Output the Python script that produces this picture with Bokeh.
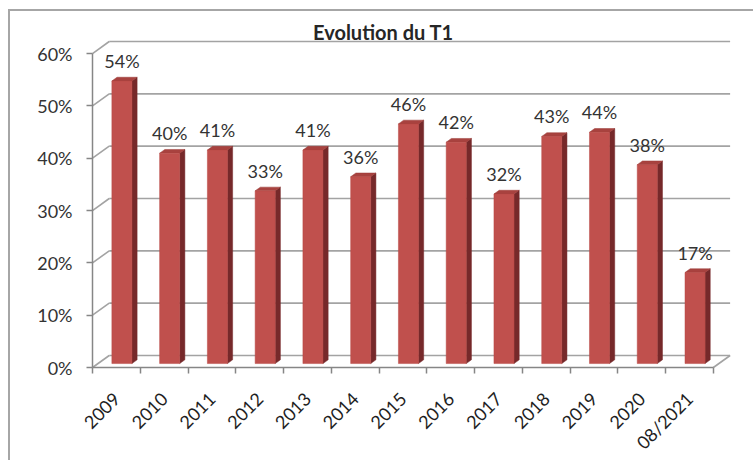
import math
from bokeh.plotting import figure
from bokeh.models import FixedTicker, Label
from bokeh.embed import file_html
from bokeh.resources import INLINE
from bokeh.core.properties import value

# ---- data ----
categories = ["2009", "2010", "2011", "2012", "2013", "2014", "2015",
              "2016", "2017", "2018", "2019", "2020", "08/2021"]
values = [54.0, 40.2, 40.8, 33.0, 40.8, 35.7, 45.8, 42.3, 32.4, 43.4, 44.2, 38.0, 17.4]
y_ticks = [0, 10, 20, 30, 40, 50, 60]
y_tick_labels = ["0%", "10%", "20%", "30%", "40%", "50%", "60%"]
title_text = "Evolution du T1"

# ---- 3D geometry (styling) ----
DX = 0.35    # depth offset in x units
DY = 2.3     # depth offset in y units
F1, F2 = 0.33, 0.64   # bar front / back depth fractions
HALF = 0.21  # half bar width
FONT = "Lato"

n = len(categories)

p = figure(width=745, height=451, x_range=(-1.717, n + 0.4), y_range=(-18.15, 67.27),
           output_backend="svg", toolbar_location=None,
           min_border_left=0, min_border_right=23, min_border_top=4, min_border_bottom=0,
           background_fill_color="white", border_fill_color="white",
           styles={"margin-left": "8px", "margin-top": "9px",
                   "border-left": "2px solid #a6a6a6", "border-top": "2px solid #a6a6a6"})
p.outline_line_color = None
p.grid.visible = False

GRID = "#a3a3a3"
# back wall gridlines + diagonals
gx0, gy0, gx1, gy1 = [], [], [], []
for t in y_ticks:
    gx0 += [0, DX]
    gy0 += [t, t + DY]
    gx1 += [DX, n + DX]
    gy1 += [t + DY, t + DY]
gx0.append(n); gy0.append(0); gx1.append(n + DX); gy1.append(DY)
p.segment(x0=gx0, y0=gy0, x1=gx1, y1=gy1, line_color=GRID, line_width=1.6)

# bars
face_l, face_r, face_b, face_t = [], [], [], []
side_xs, side_ys, top_xs, top_ys = [], [], [], []
lab_x, lab_y, lab_t = [], [], []
ddx, ddy = (F2 - F1) * DX, (F2 - F1) * DY
for i, v in enumerate(values):
    c = i + 0.5 + F1 * DX
    l, r = c - HALF, c + HALF
    b, t = F1 * DY, v + F1 * DY
    face_l.append(l); face_r.append(r); face_b.append(b); face_t.append(t)
    side_xs.append([r, r + ddx, r + ddx, r])
    side_ys.append([b, b + ddy, t + ddy, t])
    top_xs.append([l, r, r + ddx, l + ddx])
    top_ys.append([t, t, t + ddy, t + ddy])
    lab_x.append(c)
    lab_y.append(t + 3.82)
    lab_t.append(f"{round(v)}%")

p.patches(xs=side_xs, ys=side_ys, fill_color="#76292a", line_color="#76292a", line_width=0.5)
p.patches(xs=top_xs, ys=top_ys, fill_color="#a8423f", line_color="#9a3a37", line_width=0.5)
p.quad(left=face_l, right=face_r, bottom=face_b, top=face_t,
       fill_color="#c0504d", line_color="#b84845", line_width=0.5)

p.text(x=lab_x, y=lab_y, text=lab_t, text_align="center", text_baseline="middle",
       text_font=value(FONT), text_font_size="18px", text_color="#333333")

# x axis (drawn at y = 0 inside the frame)
xa = p.xaxis[0]
xa.fixed_location = 0
xa.ticker = FixedTicker(ticks=[i + 0.5 for i in range(n)], minor_ticks=list(range(n + 1)))
xa.major_label_overrides = {i + 0.5: cat for i, cat in enumerate(categories)}
xa.bounds = (0, n)
xa.major_tick_line_color = None
xa.minor_tick_line_color = "#868686"
xa.minor_tick_out = 6
xa.minor_tick_in = 0
xa.minor_tick_line_width = 1.5
xa.axis_line_color = "#868686"
xa.axis_line_width = 1.5
xa.major_label_orientation = math.pi / 4
xa.major_label_standoff = 22
xa.major_label_text_font = FONT
xa.major_label_text_font_size = "18px"
xa.major_label_text_color = "#1e1e1e"

# y axis (drawn at x = 0 inside the frame)
ya = p.yaxis[0]
ya.fixed_location = 0
ya.ticker = FixedTicker(ticks=y_ticks)
ya.major_label_overrides = {t: lab for t, lab in zip(y_ticks, y_tick_labels)}
ya.bounds = (0, 60)
ya.major_tick_out = 6
ya.major_tick_in = 0
ya.major_tick_line_color = "#868686"
ya.major_tick_line_width = 1.5
ya.minor_tick_line_color = None
ya.axis_line_color = "#868686"
ya.axis_line_width = 1.5
ya.major_label_standoff = 14
ya.major_label_text_font = FONT
ya.major_label_text_font_size = "18px"
ya.major_label_text_color = "#333333"

# title
p.add_layout(Label(x=6.09, y=64.2, text=title_text, text_align="center",
                   text_baseline="alphabetic", text_font=FONT, text_font_size="20px",
                   text_font_style="bold", text_color="#262626"))

open("out.html", "w").write(file_html(p, INLINE))
